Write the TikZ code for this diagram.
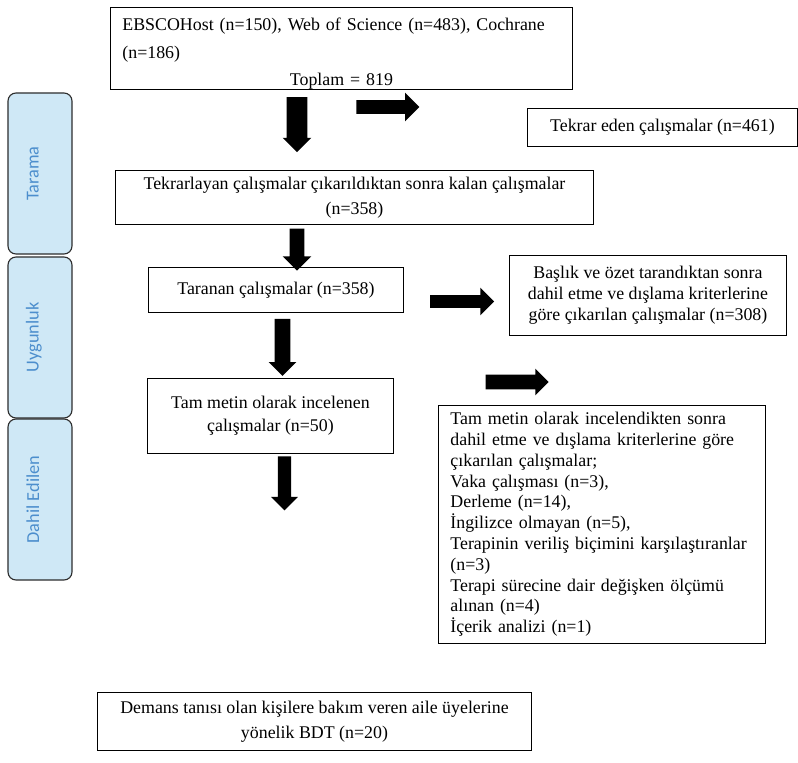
\documentclass[tikz,border=0pt]{standalone}
\usepackage{fontspec}
\setmainfont{Liberation Serif}
\newfontfamily\phasefont{Carlito}
\usetikzlibrary{shapes.arrows}

\definecolor{phasefill}{RGB}{207,232,246}
\definecolor{phasetext}{RGB}{76,142,205}
\definecolor{phaseline}{RGB}{45,45,45}

\tikzset{
  flowbox/.style={draw, line width=0.6pt, inner xsep=0.3cm, inner ysep=0pt,
    anchor=north west, align=center},
  phasebox/.style={draw=phaseline, line width=0.8pt, fill=phasefill,
    rounded corners=0.2cm, rotate=90, minimum height=1.6cm},
  phaselabel/.style={rotate=90, anchor=base, text=phasetext, inner sep=0pt,
    font=\phasefont\fontsize{13}{15}\selectfont},
  % #1 = half the shaft, #2 = how far the head sticks out
  bigarrow/.style 2 args={single arrow, fill=black, inner xsep=0pt, inner ysep=#1,
    single arrow head extend=#2},
}

\begin{document}
\begin{tikzpicture}[x=0.025cm, y=-0.025cm, font=\fontsize{12.7}{14.8}\selectfont]
  \useasboundingbox (0,0) rectangle (798,763);

  % phases on the left
  \node[phasebox, minimum width=4.025cm] (tarama) at (40,173.5) {};
  \node[phasebox, minimum width=4.025cm] (uygunluk) at (40,337.5) {};
  \node[phasebox, minimum width=4.025cm] (dahil) at (40,499.5) {};
  \node[phaselabel] (taramaText) at (38.5,173.5) {Tarama};
  \node[phaselabel] (uygunlukText) at (38.5,337.5) {Uygunluk};
  \node[phaselabel] (dahilText) at (39,499.5) {Dahil Edilen};

  % records
  \node[flowbox, minimum width=11.55cm, minimum height=2.025cm, text width=10.95cm,
    align=left, font=\fontsize{12.7}{19.5}\selectfont] (kaynak) at (110,7)
    {\rule{0pt}{0.58cm}EBSCOHost (n=150), Web of Science (n=483), Cochrane\\ (n=186)\\
     \makebox[\linewidth][c]{Toplam = 819}};
  \node[flowbox, minimum width=6.75cm, minimum height=0.95cm] (tekrar) at (527,108)
    {Tekrar eden çalışmalar (n=461)};
  \node[flowbox, minimum width=11.95cm, minimum height=1.35cm,
    font=\fontsize{12.7}{17.8}\selectfont] (kalan) at (115,170)
    {Tekrarlayan çalışmalar çıkarıldıktan sonra kalan çalışmalar\\ (n=358)};

  % screening
  \node[flowbox, minimum width=6.375cm, minimum height=1.125cm] (taranan) at (148,267)
    {Taranan çalışmalar (n=358)};
  \node[flowbox, minimum width=6.925cm, minimum height=2cm,
    font=\fontsize{12.7}{15}\selectfont] (baslik) at (509,255)
    {Başlık ve özet tarandıktan sonra\\ dahil etme ve dışlama kriterlerine\\
     göre çıkarılan çalışmalar (n=308)};

  % full text
  \node[flowbox, minimum width=6.15cm, minimum height=1.875cm,
    font=\fontsize{12.7}{16.4}\selectfont] (tammetin) at (147,378)
    {Tam metin olarak incelenen\\ çalışmalar (n=50)};
  \node[flowbox, minimum width=8.175cm, minimum height=5.95cm, text width=7.575cm,
    align=left] (cikarilan) at (438,405)
    {Tam metin olarak incelendikten sonra\\
     dahil etme ve dışlama kriterlerine göre\\
     çıkarılan çalışmalar;\\
     Vaka çalışması (n=3),\\
     Derleme (n=14),\\
     İngilizce olmayan (n=5),\\
     Terapinin veriliş biçimini karşılaştıranlar\\
     (n=3)\\
     Terapi sürecine dair değişken ölçümü\\
     alınan (n=4)\\
     İçerik analizi (n=1)};

  % included
  \node[flowbox, minimum width=10.85cm, minimum height=1.45cm,
    font=\fontsize{12.7}{17.8}\selectfont] (demans) at (97,692)
    {Demans tanısı olan kişilere bakım veren aile üyelerine\\ yönelik BDT (n=20)};

  % block arrows
  \node[bigarrow={0.25cm}{0.1cm}, minimum height=1.375cm, rotate=-90] (asagi1) at (297,119.5) {};
  \node[bigarrow={0.1625cm}{0.19cm}, minimum height=1.575cm] (sag1) at (384.5,107) {};
  \node[bigarrow={0.175cm}{0.175cm}, minimum height=1.05cm, rotate=-90] (asagi2) at (297,246) {};
  \node[bigarrow={0.15cm}{0.19cm}, minimum height=1.6cm] (sag2) at (459,301.5) {};
  \node[bigarrow={0.1875cm}{0.15cm}, minimum height=1.425cm, rotate=-90] (asagi3) at (282.5,343.5) {};
  \node[bigarrow={0.175cm}{0.15cm}, minimum height=1.575cm] (sag3) at (513.5,382) {};
  \node[bigarrow={0.16cm}{0.17cm}, minimum height=1.35cm, rotate=-90] (asagi4) at (284.5,480) {};
\end{tikzpicture}
\end{document}
